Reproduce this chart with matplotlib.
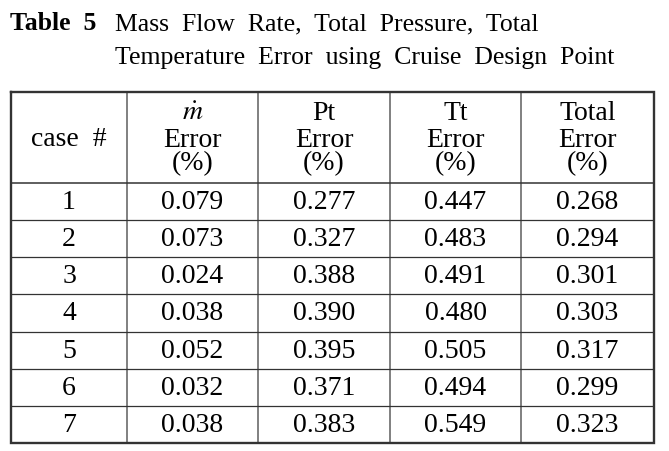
import matplotlib
matplotlib.use("Agg")
import matplotlib.pyplot as plt

cases = ["1", "2", "3", "4", "5", "6", "7"]
mdot_err = ["0.079", "0.073", "0.024", "0.038", "0.052", "0.032", "0.038"]
pt_err = ["0.277", "0.327", "0.388", "0.390", "0.395", "0.371", "0.383"]
tt_err = ["0.447", "0.483", "0.491", "0.480", "0.505", "0.494", "0.549"]
total_err = ["0.268", "0.294", "0.301", "0.303", "0.317", "0.299", "0.323"]
headers = [["case  #"], [r"$\dot{m}$", "Error", "(%)"], ["Pt", "Error", "(%)"],
           ["Tt", "Error", "(%)"], ["Total", "Error", "(%)"]]
title_bold = "Table  5"
title_line1 = "Mass  Flow  Rate,  Total  Pressure,  Total"
title_line2 = "Temperature  Error  using  Cruise  Design  Point"

plt.rcParams['mathtext.fontset'] = 'stix'
W, H = 669, 452
fig = plt.figure(figsize=(W / 100, H / 100), dpi=100)
ax = fig.add_axes([0, 0, 1, 1])
ax.set_xlim(0, W)
ax.set_ylim(H, 0)
ax.axis("off")

serif = "Liberation Serif"
title_fs = 18.5
# Title
ax.text(10, 30, title_bold, fontsize=title_fs, fontweight="bold", family=serif, va="baseline", ha="left")
ax.text(115, 30, title_line1, fontsize=title_fs, family=serif, va="baseline", ha="left")
ax.text(115, 64, title_line2, fontsize=title_fs, family=serif, va="baseline", ha="left")

# Table geometry
col_x = [11, 127, 258, 390, 521, 654]
top, header_bot, bottom = 93, 184, 444
n = len(cases)
row_h = (bottom - header_bot) / n
row_y = [header_bot + i * row_h for i in range(n + 1)]

for x in col_x[1:-1]:
    ax.plot([x, x], [top, bottom], color="#808080", lw=1.4, solid_capstyle="butt")
for y in row_y[1:-1]:
    ax.plot([col_x[0], col_x[-1]], [y, y], color="#333333", lw=0.9, solid_capstyle="butt")
ax.plot([col_x[0], col_x[-1]], [header_bot, header_bot], color="#333333", lw=1.1)
ax.plot([col_x[0], col_x[-1], col_x[-1], col_x[0], col_x[0]],
        [top, top, bottom, bottom, top], color="#333333", lw=1.7, solid_joinstyle="miter")

body_fs = 20
# Header
for j, lines in enumerate(headers):
    cx = (col_x[j] + col_x[j + 1]) / 2
    if len(lines) == 1:
        ax.text(cx, 140, lines[0], fontsize=body_fs, family=serif,
                ha="center", va="center")
    else:
        ys = [113 if j == 1 else 114, 141, 164]
        for line, y in zip(lines, ys):
            ax.text(cx, y, line, fontsize=body_fs, family=serif, ha="center", va="center")

columns = [cases, mdot_err, pt_err, tt_err, total_err]
for j, col in enumerate(columns):
    cx = (col_x[j] + col_x[j + 1]) / 2
    for i, val in enumerate(col):
        cy = (row_y[i] + row_y[i + 1]) / 2
        ax.text(cx, cy, val, fontsize=body_fs, family=serif, ha="center", va="center")

fig.savefig("out.png", dpi=100, facecolor="white")
